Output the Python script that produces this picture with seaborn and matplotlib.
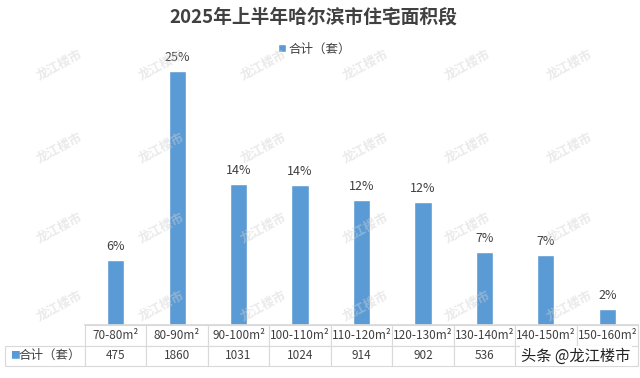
import matplotlib
matplotlib.use("Agg")
import matplotlib.pyplot as plt
import seaborn as sns
import pandas as pd

# 面积段与成交套数
categories = ["70-80m²", "80-90m²", "90-100m²", "100-110m²", "110-120m²",
              "120-130m²", "130-140m²", "140-150m²", "150-160m²"]
counts = [475, 1860, 1031, 1024, 914, 902, 536, 510, 120]
pct_labels = ["6%", "25%", "14%", "14%", "12%", "12%", "7%", "7%", "2%"]
series_name = "合计（套）"
title = "2025年上半年哈尔滨市住宅面积段"

df = pd.DataFrame({"面积段": categories, "套数": counts})

sns.set_theme(style="white")
plt.rcParams["font.family"] = ["Noto Sans CJK SC", "DejaVu Sans"]

fig = plt.figure(figsize=(6.4, 3.78), dpi=100)
ax = fig.add_axes([85 / 640, 53 / 378, 553 / 640, 268 / 378])

bar_color = "#5B9BD5"
sns.barplot(data=df, x="面积段", y="套数", color=bar_color, saturation=1,
            width=0.28, label=series_name, ax=ax)

ax.set_ylim(0, 1960)
ax.set_xlim(-0.5, len(categories) - 0.5)
ax.set_xlabel("")
ax.set_ylabel("")
ax.set_xticks([])
ax.set_yticks([])
for s in ["top", "left", "right"]:
    ax.spines[s].set_visible(False)
ax.spines["bottom"].set_color("#D9D9D9")

# 百分比标签
for bar, lab in zip(ax.patches, pct_labels):
    ax.annotate(lab, (bar.get_x() + bar.get_width() / 2, bar.get_height()),
                xytext=(0, 5), textcoords="offset points",
                ha="center", va="bottom", fontsize=9, color="#404040")

ax.legend(loc="center", bbox_to_anchor=(0.415, 1.03), frameon=False,
          fontsize=9, handlelength=0.6, handleheight=0.6, handletextpad=0.2,
          labelcolor="#404040")

fig.text(0.49, 0.955, title, ha="center", va="center", fontsize=13.5,
         fontweight="bold", color="#404040")

# 数据表
table = ax.table(cellText=[[""] + [str(v) for v in counts]],
                 colLabels=[""] + categories,
                 colWidths=[80] + [61.5] * len(categories),
                 cellLoc="center",
                 bbox=[-80 / 553, -41 / 268, 633 / 553, 41 / 268])
table.auto_set_font_size(False)
for (r, c), cell in table.get_celld().items():
    cell.set_edgecolor("#D9D9D9")
    cell.set_linewidth(0.8)
    cell.get_text().set_fontsize(8.5)
    cell.get_text().set_color("#404040")
    if r == 0 and c == 0:
        cell.visible_edges = ""
fig.text(10 / 640, 1 - 355 / 378, "■", color=bar_color, fontsize=7,
         va="center", ha="left")
fig.text(19 / 640, 1 - 355 / 378, series_name, color="#404040", fontsize=9,
         va="center", ha="left")

# 水印
for yy in [65, 148, 228, 306]:
    for xx in [60, 162, 264, 366, 468, 570]:
        fig.text(xx / 640, 1 - yy / 378, "龙江楼市", rotation=28,
                 fontsize=9, fontweight="bold", color="#D0D0D0", alpha=0.45,
                 ha="center", va="center")

fig.text(0.985, 1 - 356 / 378, "头条 @龙江楼市", ha="right", va="center",
         fontsize=11, color="#222222",
         bbox=dict(facecolor="white", edgecolor="none", pad=1))

fig.savefig("out.png", dpi=100)
